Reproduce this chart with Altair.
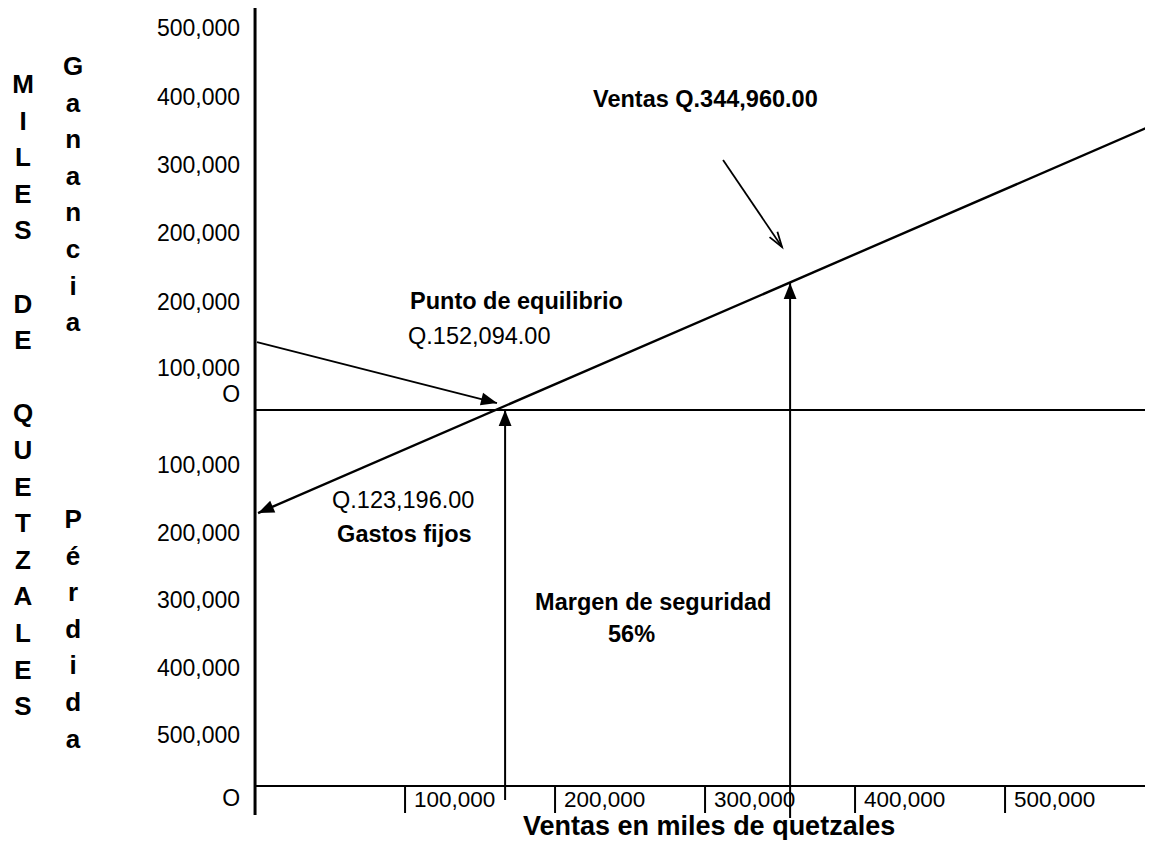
import math
import altair as alt
import pandas as pd

# ---------------- data (values in quetzales) ----------------
# y-axis labels as printed on the chart and the height where each one sits
y_tick_labels = ["500,000", "400,000", "300,000", "200,000", "200,000", "100,000", "O",
                 "100,000", "200,000", "300,000", "400,000", "500,000", "O"]
y_tick_values = [561800, 460300, 360300, 260300, 158800, 61800, 23500,
                 -80900, -180900, -279400, -379400, -477900, -570600]

# x-axis (ventas)
x_tick_values = [100000, 200000, 300000, 400000, 500000]
x_tick_labels = ["100,000", "200,000", "300,000", "400,000", "500,000"]
x_tick_label_y = -572000

# key points of the diagram
break_even_x = 166700
sales_x = 356700
sales_profit_y = 186800

# profit line (ends with an arrow at the fixed-cost end)
profit_line_x = [2000, 598700]
profit_line_y = [-151500, 419100]

base_y = -552900          # bottom horizontal line
axis_top_y = 591200
axis_bottom_y = -595600
tick_bottom_y = -592600
be_arrow_bottom_y = -573500
sales_arrow_bottom_y = -600000

# pointer arrows of the annotations
pointer_be_x = [1300, 161300]
pointer_be_y = [100000, 10300]
pointer_sales_x = [312000, 351300]
pointer_sales_y = [367600, 239700]

notes_bold = ["Ventas Q.344,960.00", "Punto de equilibrio", "Gastos fijos",
              "Margen de seguridad", "56%"]
notes_bold_x = [225300, 103300, 54700, 186700, 235300]
notes_bold_y = [457400, 160300, -182400, -282400, -329400]

notes_reg = ["Q.152,094.00", "Q.123,196.00"]
notes_reg_x = [102000, 51300]
notes_reg_y = [108800, -132400]

side_words = ["M\nI\nL\nE\nS", "D\nE", "Q\nU\nE\nT\nZ\nA\nL\nE\nS",
              "G\na\nn\na\nn\nc\ni\na", "P\né\nr\nd\ni\nd\na"]
side_x = [-154700, -154700, -154700, -121300, -121300]
side_y = [466200, 143200, -18200, 492600, -173500]

x_title = "Ventas en miles de quetzales"
x_title_x = 302700
x_title_y = -611200

# ---------------- layout ----------------
W, H = 1137, 832
PX_X = 150 / 100000      # pixels per quetzal, horizontal
PX_Y = 68 / 100000       # pixels per quetzal, vertical
X_DOMAIN = [-164700, -164700 + W / PX_X]
Y_DOMAIN = [591200 - H / PX_Y, 591200]
FONT = "Liberation Sans"

XS = alt.Scale(domain=X_DOMAIN, nice=False, zero=False)
YS = alt.Scale(domain=Y_DOMAIN, nice=False, zero=False)


def X(f):
    return alt.X(f"{f}:Q", scale=XS, axis=None)


def Y(f):
    return alt.Y(f"{f}:Q", scale=YS, axis=None)


def screen_angle(x0, y0, x1, y1):
    dx = (x1 - x0) * PX_X
    dy = -(y1 - y0) * PX_Y
    return math.degrees(math.atan2(dx, -dy)) % 360


def segs(rows, width):
    df = pd.DataFrame(rows, columns=["x", "y", "x2", "y2"])
    return alt.Chart(df).mark_rule(color="black", strokeWidth=width, clip=True).encode(
        x=X("x"), y=Y("y"), x2="x2:Q", y2="y2:Q")


xmax = X_DOMAIN[1]

axis_layer = segs([[0, axis_top_y, 0, axis_bottom_y]], 3)
frame_layer = segs(
    [[0, 0, xmax, 0], [0, base_y, xmax, base_y]]
    + [[v, base_y, v, tick_bottom_y] for v in x_tick_values]
    + [[break_even_x, be_arrow_bottom_y, break_even_x, 0],
       [sales_x, sales_arrow_bottom_y, sales_x, sales_profit_y]],
    2)
profit_layer = segs([[profit_line_x[0], profit_line_y[0], profit_line_x[1], profit_line_y[1]]], 2.4)
pointer_layer = segs([[pointer_be_x[0], pointer_be_y[0], pointer_be_x[1], pointer_be_y[1]],
                      [pointer_sales_x[0], pointer_sales_y[0], pointer_sales_x[1], pointer_sales_y[1]]], 1.8)

heads = pd.DataFrame({
    "x": [break_even_x, sales_x, profit_line_x[0], pointer_be_x[1]],
    "y": [0, sales_profit_y, profit_line_y[0], pointer_be_y[1]],
    "angle": [0, 0,
              screen_angle(profit_line_x[1], profit_line_y[1], profit_line_x[0], profit_line_y[0]),
              screen_angle(pointer_be_x[0], pointer_be_y[0], pointer_be_x[1], pointer_be_y[1])],
})
head_layer = alt.Chart(heads).mark_point(
    shape="M0,0L0.8,2L-0.8,2Z", size=256, filled=True, color="black", opacity=1
).encode(x=X("x"), y=Y("y"), angle=alt.Angle("angle:Q", scale=None))

open_head = pd.DataFrame({
    "x": [pointer_sales_x[1]], "y": [pointer_sales_y[1]],
    "angle": [screen_angle(pointer_sales_x[0], pointer_sales_y[0], pointer_sales_x[1], pointer_sales_y[1])],
})
open_head_layer = alt.Chart(open_head).mark_point(
    shape="M-0.5,1.6L0,0L0.5,1.6", size=361, filled=False, color="black",
    strokeWidth=1.8, opacity=1
).encode(x=X("x"), y=Y("y"), angle=alt.Angle("angle:Q", scale=None))

ytl = pd.DataFrame({"x": [0] * len(y_tick_values), "y": y_tick_values, "t": y_tick_labels})
ytl_layer = alt.Chart(ytl).mark_text(
    font=FONT, fontSize=23, align="right", baseline="middle", dx=-15, dy=1, color="black"
).encode(x=X("x"), y=Y("y"), text="t:N")

xtl = pd.DataFrame({"x": x_tick_values, "y": [x_tick_label_y] * len(x_tick_values), "t": x_tick_labels})
xtl_layer = alt.Chart(xtl).mark_text(
    font=FONT, fontSize=22.5, align="left", baseline="middle", dx=9, dy=1, color="black"
).encode(x=X("x"), y=Y("y"), text="t:N")

nb = pd.DataFrame({"x": notes_bold_x, "y": notes_bold_y, "t": notes_bold})
nb_layer = alt.Chart(nb).mark_text(
    font=FONT, fontSize=23.5, fontWeight="bold", align="left", baseline="middle", dy=1, color="black"
).encode(x=X("x"), y=Y("y"), text="t:N")

nr = pd.DataFrame({"x": notes_reg_x, "y": notes_reg_y, "t": notes_reg})
nr_layer = alt.Chart(nr).mark_text(
    font=FONT, fontSize=23.5, align="left", baseline="middle", dy=1, color="black"
).encode(x=X("x"), y=Y("y"), text="t:N")

side = pd.DataFrame({"x": side_x, "y": side_y, "t": side_words})
side_layer = alt.Chart(side).mark_text(
    font=FONT, fontSize=26, fontWeight="bold", align="center", baseline="alphabetic",
    lineBreak="\n", lineHeight=36.6, color="black"
).encode(x=X("x"), y=Y("y"), text="t:N")

title_df = pd.DataFrame({"x": [x_title_x], "y": [x_title_y], "t": [x_title]})
title_layer = alt.Chart(title_df).mark_text(
    font=FONT, fontSize=27, fontWeight="bold", align="center", baseline="middle", dy=1, color="black"
).encode(x=X("x"), y=Y("y"), text="t:N")

chart = alt.layer(
    frame_layer, profit_layer, pointer_layer, axis_layer, head_layer, open_head_layer,
    ytl_layer, xtl_layer, nb_layer, nr_layer, side_layer, title_layer
).properties(
    width=W, height=H, autosize=alt.AutoSizeParams(type="none"), padding=0,
    background="white"
).configure_view(strokeWidth=0)

chart.save("out.html", embed_options={"renderer": "svg", "actions": False})
